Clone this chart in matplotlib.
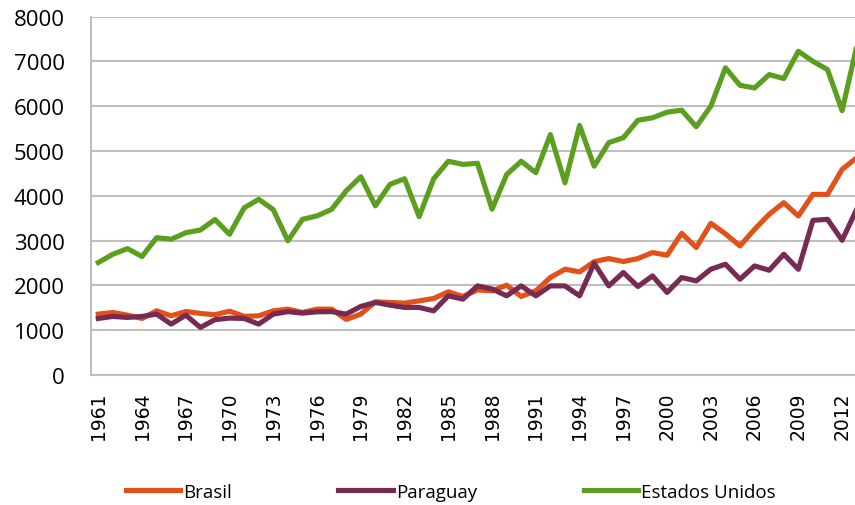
import matplotlib.pyplot as plt
import numpy as np

years = list(range(1961, 2014))

brasil = [1359, 1396, 1336, 1262, 1432, 1321, 1418, 1374, 1345, 1425,
          1310, 1321, 1432, 1470, 1396, 1470, 1470, 1240, 1359, 1633,
          1619, 1604, 1655, 1708, 1856, 1753, 1900, 1878, 2004, 1753,
          1878, 2176, 2361, 2301, 2530, 2599, 2532, 2599, 2733, 2673,
          3163, 2844, 3385, 3150, 2880, 3252, 3586, 3846, 3548, 4031,
          4031, 4588, 4848]

paraguay = [1262, 1307, 1285, 1307, 1359, 1136, 1336, 1062, 1235, 1270,
            1262, 1136, 1359, 1414, 1381, 1410, 1415, 1359, 1530, 1619,
            1559, 1508, 1508, 1432, 1767, 1693, 1989, 1920, 1767, 1989,
            1767, 1989, 1989, 1767, 2494, 1989, 2287, 1975, 2212, 1842,
            2176, 2100, 2361, 2472, 2138, 2434, 2338, 2695, 2360, 3452,
            3474, 3007, 3697]

estados_unidos = [2510, 2695, 2820, 2645, 3065, 3030, 3175, 3235, 3470, 3140,
                  3730, 3920, 3690, 2995, 3475, 3550, 3697, 4110, 4425, 3775,
                  4255, 4380, 3535, 4380, 4770, 4700, 4725, 3700, 4475, 4770,
                  4515, 5365, 4290, 5570, 4660, 5185, 5295, 5685, 5740, 5865,
                  5910, 5540, 6000, 6855, 6465, 6405, 6705, 6615, 7225, 7000,
                  6815, 5900, 7335]

series = [('Brasil', brasil, '#E2511A'),
          ('Paraguay', paraguay, '#772A52'),
          ('Estados Unidos', estados_unidos, '#5A9F1E')]

fig = plt.figure(figsize=(8.55, 5.06), dpi=100)
ax = fig.add_axes([0.1064, 0.2569, 0.9041, 0.7085])

for name, vals, color in series:
    ax.plot(years, vals, color=color, lw=3.7, label=name,
            solid_joinstyle='round', zorder=3)

ax.set_xlim(1960.5, 2013.5)
ax.set_ylim(0, 8000)
ax.set_yticks(np.arange(0, 8001, 1000))
ax.set_xticks(years[::3])
ax.set_xticklabels([str(y) for y in years[::3]], rotation=90,
                   fontsize=13.5, family='DejaVu Sans')
for lab in ax.get_yticklabels():
    lab.set_family('Open Sans')
    lab.set_fontsize(16)

ax.grid(axis='y', color='#BFBFBF', lw=1.5, zorder=0)
ax.tick_params(axis='both', length=0)
ax.tick_params(axis='y', pad=19)
ax.tick_params(axis='x', pad=12)
for side in ['top', 'right']:
    ax.spines[side].set_visible(False)
for side in ['left', 'bottom']:
    ax.spines[side].set_color('#BFBFBF')
    ax.spines[side].set_linewidth(1.5)

fig.legend(loc='center', bbox_to_anchor=(0.527, 0.026), ncol=3,
           frameon=False, handlelength=2.9, handletextpad=0.15,
           columnspacing=5.7, prop={'family': 'Open Sans', 'size': 13.5})

fig.savefig('out.png', dpi=100)
